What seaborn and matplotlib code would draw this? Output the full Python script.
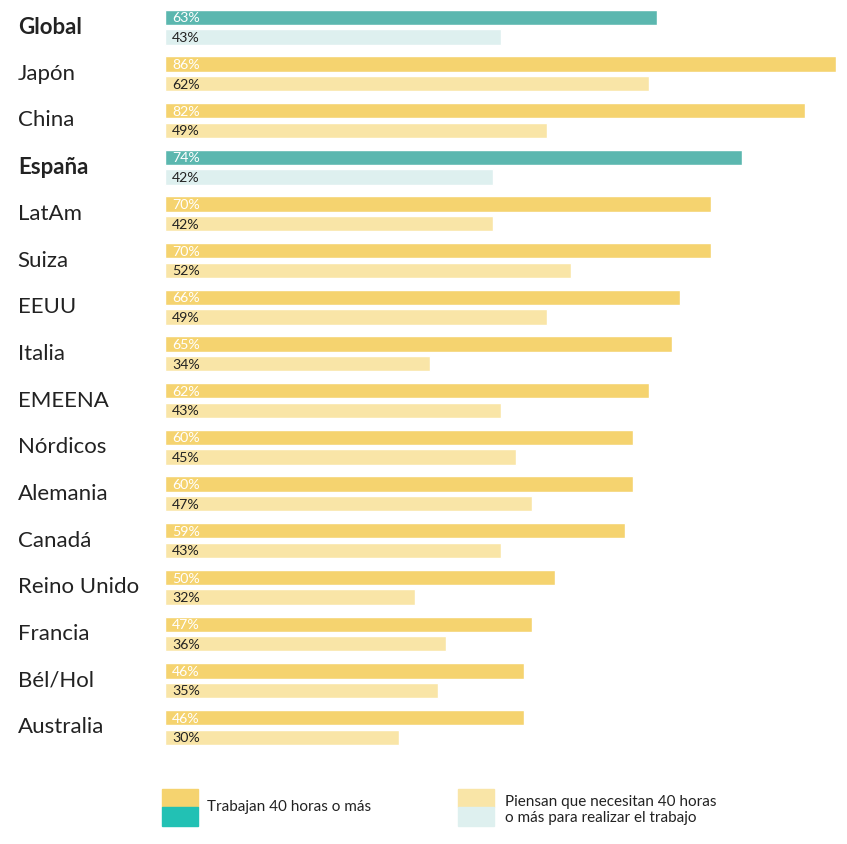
import pandas as pd
import matplotlib.pyplot as plt
import matplotlib.transforms as mtrans
import seaborn as sns
from matplotlib.patches import Rectangle

paises = ['Global', 'Japón', 'China', 'España', 'LatAm', 'Suiza', 'EEUU', 'Italia',
          'EMEENA', 'Nórdicos', 'Alemania', 'Canadá', 'Reino Unido', 'Francia',
          'Bél/Hol', 'Australia']
trabajan = [63, 86, 82, 74, 70, 70, 66, 65, 62, 60, 60, 59, 50, 47, 46, 46]
piensan = [43, 62, 49, 42, 42, 52, 49, 34, 43, 45, 47, 43, 32, 36, 35, 30]
destacados = ['Global', 'España']

serie1 = 'Trabajan 40 horas o más'
serie2 = 'Piensan que necesitan 40 horas\no más para realizar el trabajo'

df = pd.DataFrame({
    'pais': paises * 2,
    'valor': trabajan + piensan,
    'serie': [serie1] * len(paises) + [serie2] * len(paises),
})

amarillo = '#F5D36F'
amarillo_claro = '#F9E5A7'
verde = '#5BB7AF'
verde_claro = '#DEF0EF'

sns.set_style('white')
plt.rcParams['font.family'] = ['Lato', 'DejaVu Sans']

fig = plt.figure(figsize=(8.47, 8.45), dpi=100)
ax = fig.add_axes([165 / 847, 0.1104, (836 - 165) / 847, 0.9944 - 0.1104])

sns.barplot(data=df, y='pais', x='valor', hue='serie', order=paises,
            palette=[amarillo, amarillo_claro], width=0.84, gap=0.22,
            saturation=1, orient='h', legend=False, ax=ax)

# recolorear Global y España en verde + etiquetas dentro de las barras
for i, cont in enumerate(ax.containers):
    vals = trabajan if i == 0 else piensan
    for pais, bar, v in zip(paises, cont, vals):
        if pais in destacados:
            bar.set_facecolor(verde if i == 0 else verde_claro)
        y = bar.get_y() + bar.get_height() / 2
        ax.text(0.9, y, f'{v}%', va='center', ha='left', fontsize=10.2,
                color='white' if i == 0 else '#222222')

ax.set_xlim(0, 86)
ax.set_xlabel('')
ax.set_ylabel('')
ax.set_xticks([])
sns.despine(ax=ax, left=True, bottom=True)
ax.tick_params(axis='y', length=0, pad=106)
subir = mtrans.ScaledTranslation(0, 3 / 100, fig.dpi_scale_trans)
for lab in ax.get_yticklabels():
    lab.set_ha('left')
    lab.set_fontsize(16)
    lab.set_color('#222222')
    lab.set_transform(lab.get_transform() + subir)
    if lab.get_text() in destacados:
        lab.set_fontweight('bold')

# leyenda
def cuadro(x, arriba, abajo):
    fig.patches.append(Rectangle((x / 847, 1 - 808 / 845), 36 / 847, 18 / 845,
                                 transform=fig.transFigure, color=arriba))
    fig.patches.append(Rectangle((x / 847, 1 - 827 / 845), 36 / 847, 19 / 845,
                                 transform=fig.transFigure, color=abajo))

cuadro(162, amarillo, '#22C1B4')
cuadro(458, amarillo_claro, verde_claro)
fig.text(207 / 847, 1 - 807 / 845, serie1, fontsize=11, va='center', color='#222222')
fig.text(505 / 847, 1 - 810 / 845, serie2, fontsize=11, va='center',
         color='#222222', linespacing=1.1)

fig.savefig('out.png', dpi=100)
